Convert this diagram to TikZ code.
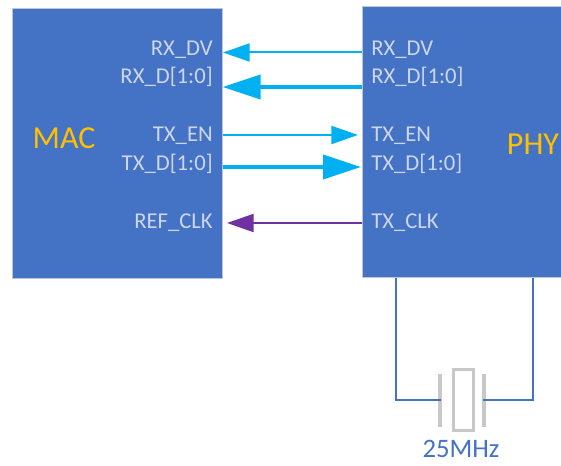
\documentclass[tikz,border=0pt]{standalone}
\usepackage{fontspec}
\setmainfont{Carlito}
\usetikzlibrary{arrows.meta}
\definecolor{boxBlue}{HTML}{4472C4}
\definecolor{boxEdge}{RGB}{190,198,212}
\definecolor{pinText}{RGB}{205,214,234}
\definecolor{sigCyan}{HTML}{00B0F0}
\definecolor{clkPurple}{HTML}{7030A0}
\definecolor{nameOrange}{HTML}{FFC000}
\definecolor{xtalGrey}{RGB}{200,200,200}

\begin{document}
\begin{tikzpicture}[x=0.75pt, y=-0.75pt,
    boxStyle/.style={draw=boxEdge, fill=boxBlue, line width=0.75pt, inner sep=0pt},
    nameStyle/.style={text=nameOrange, font=\fontsize{24}{28}\selectfont, inner sep=0pt},
    pinStyle/.style={text=pinText, font=\fontsize{17}{20}\selectfont, inner sep=0pt},
    thinArrow/.style={line width=1.5pt, -{Triangle[length=20pt, width=13.5pt]}},
    thickArrow/.style={line width=3pt, -{Triangle[length=28.5pt, width=18pt]}},
    wireStyle/.style={draw=boxBlue, line width=1.5pt},
    plateStyle/.style={draw=xtalGrey, line width=3pt}]
    \clip (0,0) rectangle (561,466);

    % the two chips
    \node[boxStyle, minimum width=157.5pt, minimum height=202.5pt](mac) at (117,144) {};
    \node[boxStyle, minimum width=149.25pt, minimum height=203.25pt](phy) at (461.5,142.5) {};
    \node[nameStyle](macName) at (64,138) {MAC};
    \node[nameStyle](phyName) at (533,144) {PHY};

    % pin names
    \node[pinStyle, anchor=base east](macRxdv) at (213,56) {RX\_DV};
    \node[pinStyle, anchor=base east](macRxd) at (213,84) {RX\_D[1:0]};
    \node[pinStyle, anchor=base east](macTxen) at (213,142) {TX\_EN};
    \node[pinStyle, anchor=base east](macTxd) at (213,171) {TX\_D[1:0]};
    \node[pinStyle, anchor=base east](macRef) at (213,229) {REF\_CLK};
    \node[pinStyle, anchor=base west](phyRxdv) at (371,56) {RX\_DV};
    \node[pinStyle, anchor=base west](phyRxd) at (371,84) {RX\_D[1:0]};
    \node[pinStyle, anchor=base west](phyTxen) at (371,142) {TX\_EN};
    \node[pinStyle, anchor=base west](phyTxd) at (371,171) {TX\_D[1:0]};
    \node[pinStyle, anchor=base west](phyClk) at (371,229) {TX\_CLK};

    % signals
    \coordinate (rxdv) at (223,52.5);
    \coordinate (rxd) at (222.5,87);
    \coordinate (txen) at (358,135);
    \coordinate (txd) at (361,167);
    \coordinate (refclk) at (227,223);
    \draw[thinArrow, sigCyan] (phy.west |- rxdv) -- (rxdv);
    \draw[thickArrow, sigCyan] (phy.west |- rxd) -- (rxd);
    \draw[thinArrow, sigCyan] (mac.east |- txen) -- (txen);
    \draw[thickArrow, sigCyan] (mac.east |- txd) -- (txd);
    \draw[thinArrow, clkPurple] (phy.west |- refclk) -- (refclk);

    % crystal
    \node[draw=xtalGrey, line width=2.25pt, inner sep=0pt, minimum width=15pt, minimum height=45.75pt](xtal) at (463.5,400.5) {};
    \draw[plateStyle] (440,374) -- (440,427);
    \draw[plateStyle] (484,374) -- (484,427);
    \coordinate (legL) at (396,400);
    \coordinate (legR) at (533,400);
    \coordinate (xtalL) at (441,400);
    \coordinate (xtalR) at (483,400);
    \draw[wireStyle] (phy.south -| legL) -- (legL) -- (xtalL);
    \draw[wireStyle] (phy.south -| legR) -- (legR) -- (xtalR);
    \node[text=boxBlue, font=\fontsize{20}{24}\selectfont, inner sep=0pt, anchor=base](freq) at (461,458) {25MHz};
\end{tikzpicture}
\end{document}
